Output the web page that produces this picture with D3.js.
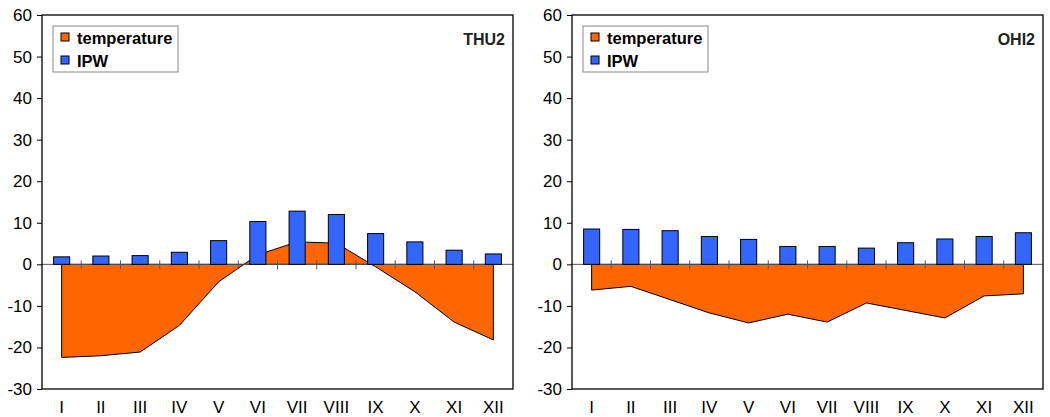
<!DOCTYPE html>
<html>
<head>
<meta charset="utf-8">
<script src="https://cdn.jsdelivr.net/npm/d3@7"></script>
<style>
  body { margin: 0; background: #fff; }
  svg { display: block; font-family: "Liberation Sans", Arial, sans-serif; }
</style>
</head>
<body>
<svg id="chart" width="1050" height="417"></svg>
<script>
const months = ["I", "II", "III", "IV", "V", "VI", "VII", "VIII", "IX", "X", "XI", "XII"]
const yTicks = [-30, -20, -10, 0, 10, 20, 30, 40, 50, 60]

// THU2 station
const thuTemp = [-22.4, -22.0, -21.1, -14.7, -4.2, 2.3, 5.4, 5.1, -0.6, -6.6, -13.9, -18.2]
const thuIpw = [1.8, 2.0, 2.1, 2.9, 5.7, 10.3, 12.8, 12.0, 7.4, 5.4, 3.4, 2.5]

// OHI2 station
const ohiTemp = [-6.2, -5.3, -8.5, -11.7, -14.1, -12.0, -13.9, -9.3, -11.1, -12.9, -7.6, -7.1]
const ohiIpw = [8.5, 8.4, 8.1, 6.7, 6.0, 4.3, 4.3, 3.9, 5.2, 6.1, 6.7, 7.6]

const svg = d3.select('#chart')

function panel(left, right, name, temp, ipw) {
	const x = d3.scaleBand().domain(months).range([left, right]).padding(0)
	const y = d3.scaleLinear().domain([-30, 60]).range([389, 15])
	const bw = x.bandwidth()
	const cx = m => x(m) + bw / 2

	const g = svg.append('g')

	// temperature area
	const area = d3.area()
		.x((d, i) => cx(months[i]))
		.y0(y(0))
		.y1(d => y(d))

	g.append('path')
		.datum(temp)
		.attr('d', area)
		.attr('fill', '#ff6600')
		.attr('stroke', '#000')
		.attr('stroke-width', 1)
		.attr('stroke-linejoin', 'round')

	// zero line
	g.append('line')
		.attr('x1', left).attr('x2', right)
		.attr('y1', y(0)).attr('y2', y(0))
		.attr('stroke', '#555')
		.attr('stroke-width', 1)

	// category ticks on zero line
	g.selectAll('.ct')
		.data(months.slice(1))
		.join('line')
		.attr('x1', d => x(d)).attr('x2', d => x(d))
		.attr('y1', y(0) - 4).attr('y2', y(0) + 5)
		.attr('stroke', '#555')
		.attr('stroke-width', 1)

	// IPW bars
	const barW = bw * 0.41
	g.selectAll('.bar')
		.data(ipw)
		.join('rect')
		.attr('x', (d, i) => cx(months[i]) - barW / 2)
		.attr('y', d => y(d))
		.attr('width', barW)
		.attr('height', d => y(0) - y(d))
		.attr('fill', '#3366ff')
		.attr('stroke', '#000')
		.attr('stroke-width', 1)

	// frame
	g.append('rect')
		.attr('x', left).attr('y', 15)
		.attr('width', right - left).attr('height', 374)
		.attr('fill', 'none')
		.attr('stroke', '#000')
		.attr('stroke-width', 1.3)

	// y axis
	const yAxis = g.append('g')
		.attr('transform', `translate(${left},0)`)
		.call(d3.axisLeft(y).tickValues(yTicks).tickSize(5).tickPadding(5).tickFormat(d => String(d)))
	yAxis.select('.domain').remove()
	yAxis.selectAll('line').attr('stroke', '#000')
	yAxis.selectAll('text').attr('font-size', 17).attr('fill', '#000')
		.attr('font-family', '"Liberation Sans", Arial, sans-serif')

	// x labels
	g.selectAll('.xl')
		.data(months)
		.join('text')
		.attr('x', d => cx(d))
		.attr('y', 413)
		.attr('text-anchor', 'middle')
		.attr('font-size', 17)
		.text(d => d)

	// station name
	g.append('text')
		.attr('x', right - 8)
		.attr('y', 45)
		.attr('text-anchor', 'end')
		.attr('font-size', 16)
		.attr('font-weight', 'bold')
		.attr('fill', '#222')
		.text(name)

	// legend
	const lg = g.append('g').attr('transform', `translate(${left + 11},26)`)
	lg.append('rect')
		.attr('width', 125).attr('height', 46)
		.attr('fill', '#fff')
		.attr('stroke', '#888')
		.attr('stroke-width', 1)
	const items = [['temperature', '#ff6600'], ['IPW', '#3366ff']]
	items.forEach((it, i) => {
		lg.append('rect')
			.attr('x', 8).attr('y', 7 + i * 23)
			.attr('width', 8).attr('height', 8)
			.attr('fill', it[1])
			.attr('stroke', '#000')
			.attr('stroke-width', 1)
		lg.append('text')
			.attr('x', 24).attr('y', 17.5 + i * 23)
			.attr('font-size', 16.5)
			.attr('font-weight', 'bold')
			.text(it[0])
	})
}

panel(42, 513, 'THU2', thuTemp, thuIpw)
panel(572, 1043, 'OHI2', ohiTemp, ohiIpw)
</script>
</body>
</html>
